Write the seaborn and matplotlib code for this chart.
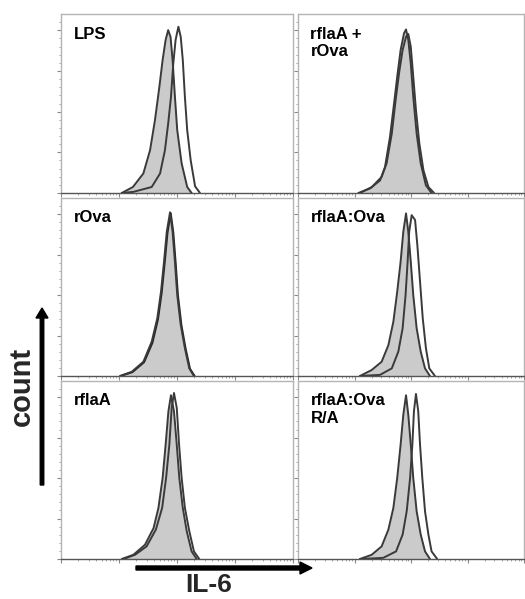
import numpy as np
import pandas as pd
import matplotlib
matplotlib.use("Agg")
import matplotlib.pyplot as plt
import seaborn as sns

# ---------------- data (x: fluorescence channel 0-1000, y: % of max count) ----------------
panel_labels = ["LPS", "rflaA +\nrOva", "rOva", "rflaA:Ova", "rflaA", "rflaA:Ova\nR/A"]

lps_ctrl_x = [262, 310, 355, 384, 405, 424, 438, 451, 462, 472, 481, 491, 501, 520, 544, 563]
lps_ctrl_y = [0, 3.7, 12.0, 26.4, 44.8, 65.2, 81.7, 94.1, 100.1, 96.0, 81.7, 59.3, 38.6, 18.2, 3.7, 0]
lps_stim_x = [262, 312, 391, 427, 448, 462, 474, 484, 494, 506, 516, 525, 534, 544, 559, 578, 599]
lps_stim_y = [0, 0.7, 3.7, 12.0, 26.3, 42.7, 59.1, 79.6, 94.1, 102.2, 96.0, 81.7, 59.1, 38.6, 20.1, 4.1, 0]

mix_ctrl_x = [267, 319, 363, 385, 407, 425, 439, 454, 469, 478, 488, 499, 510, 525, 543, 566, 591]
mix_ctrl_y = [0, 2.8, 7.7, 16.0, 34.4, 55.0, 71.4, 87.8, 98.1, 100.5, 94.1, 79.6, 59.1, 36.5, 18.2, 4.7, 0]
mix_stim_x = [274, 327, 370, 392, 415, 432, 447, 463, 478, 488, 499, 510, 522, 537, 555, 577, 602]
mix_stim_y = [0, 3.7, 9.9, 18.2, 36.5, 57.1, 73.5, 87.9, 96.0, 97.7, 89.9, 71.4, 50.9, 30.4, 14.0, 3.7, 0]

rova_ctrl_x = [254, 305, 355, 391, 415, 431, 444, 456, 470, 481, 491, 501, 516, 534, 553, 573]
rova_ctrl_y = [0, 2.6, 8.8, 21.2, 35.6, 52.1, 70.6, 89.2, 101.2, 89.2, 70.6, 50.1, 31.6, 17.2, 4.7, 0]
rova_stim_x = [257, 308, 358, 394, 418, 434, 447, 459, 473, 484, 494, 504, 519, 537, 556, 576]
rova_stim_y = [0, 2.4, 8.5, 20.5, 35.0, 51.5, 70.0, 88.5, 100.6, 88.8, 70.4, 50.0, 31.5, 17.0, 4.5, 0]

fus_ctrl_x = [274, 326, 370, 400, 422, 439, 454, 466, 478, 488, 499, 510, 525, 543, 562, 584]
fus_ctrl_y = [0, 3.7, 8.8, 19.1, 33.6, 52.1, 70.6, 89.2, 100.5, 89.2, 70.6, 50.1, 29.5, 15.1, 4.7, 0]
fus_stim_x = [274, 363, 415, 444, 463, 476, 485, 492, 503, 518, 528, 540, 552, 566, 581, 606]
fus_stim_y = [0, 0.7, 4.7, 15.1, 29.5, 50.1, 70.6, 89.2, 99.4, 96.4, 81.0, 58.3, 35.6, 17.2, 4.7, 0]

fla_ctrl_x = [262, 312, 362, 399, 420, 438, 451, 463, 474, 487, 499, 510, 525, 542, 563, 585]
fla_ctrl_y = [0, 2.6, 8.8, 19.1, 31.6, 50.1, 70.6, 91.3, 101.2, 91.3, 70.6, 50.1, 31.6, 17.2, 4.7, 0]
fla_stim_x = [269, 319, 369, 409, 436, 453, 467, 477, 487, 499, 509, 520, 534, 553, 573, 596]
fla_stim_y = [0, 2.6, 7.8, 18.2, 31.6, 50.1, 70.6, 93.3, 102.6, 93.3, 70.6, 50.1, 31.6, 17.2, 4.7, 0]

ra_ctrl_x = [274, 326, 370, 400, 422, 439, 454, 466, 478, 488, 499, 510, 525, 543, 562, 584]
ra_ctrl_y = [0, 2.6, 7.8, 18.2, 31.6, 50.1, 70.6, 89.2, 101.2, 89.2, 70.6, 50.1, 29.5, 15.1, 4.7, 0]
ra_stim_x = [274, 377, 434, 463, 481, 496, 506, 513, 522, 532, 540, 550, 562, 577, 591, 616]
ra_stim_y = [0, 0.7, 4.7, 15.1, 29.5, 50.1, 70.6, 91.3, 102.0, 91.3, 70.6, 50.1, 29.5, 15.1, 4.7, 0]

x_label = "IL-6"
y_label = "count"

# ------------------------------------------------------------------------------------------
sns.set_theme(style="white")
plt.rcParams["font.family"] = ["Liberation Sans", "DejaVu Sans"]

W, H = 525, 599
fig = plt.figure(figsize=(W / 100, H / 100), dpi=100)

cols = [(61, 293), (298, 524)]
rows = [(14, 193), (198, 376), (381, 559)]

panels = [
    (lps_ctrl_x, lps_ctrl_y, lps_stim_x, lps_stim_y),
    (mix_ctrl_x, mix_ctrl_y, mix_stim_x, mix_stim_y),
    (rova_ctrl_x, rova_ctrl_y, rova_stim_x, rova_stim_y),
    (fus_ctrl_x, fus_ctrl_y, fus_stim_x, fus_stim_y),
    (fla_ctrl_x, fla_ctrl_y, fla_stim_x, fla_stim_y),
    (ra_ctrl_x, ra_ctrl_y, ra_stim_x, ra_stim_y),
]

frame_col = "#b4b4b4"
line_col = "#3a3a3a"
fill_col = "#cbcbcb"

# log-like decade minor ticks for the fluorescence axis
dec = 250
xmajor = [i * dec for i in range(5)]
xminor = [d * dec + dec * np.log10(k) for d in range(4) for k in range(2, 10)]

for i, (label, (cx, cy, sx, sy)) in enumerate(zip(panel_labels, panels)):
    r, c = divmod(i, 2)
    x0, x1 = cols[c]
    y0, y1 = rows[r]
    ax = fig.add_axes([x0 / W, 1 - y1 / H, (x1 - x0) / W, (y1 - y0) / H])
    ax.set_facecolor("white")
    ctrl = pd.DataFrame({"x": cx, "y": cy})
    stim = pd.DataFrame({"x": sx, "y": sy})
    ax.fill_between(ctrl["x"], ctrl["y"], 0, color=fill_col, linewidth=0, zorder=1)
    sns.lineplot(data=ctrl, x="x", y="y", ax=ax, color=line_col, lw=1.4,
                 estimator=None, sort=False, zorder=3)
    sns.lineplot(data=stim, x="x", y="y", ax=ax, color="#222222" if i == 2 else line_col,
                 lw=1.4, estimator=None, sort=False, zorder=2)
    ax.set_xlim(0, 1000)
    ax.set_ylim(0, 110)
    ax.set_xlabel("")
    ax.set_ylabel("")
    ax.set_xticks(xmajor)
    ax.set_xticks(xminor, minor=True)
    ax.set_yticks([0, 25, 50, 75, 100])
    ax.set_yticks(np.arange(5, 110, 5), minor=True)
    ax.set_xticklabels([])
    ax.set_yticklabels([])
    ax.tick_params(axis="both", which="major", direction="out", length=3, width=0.8,
                   color="#888888", bottom=True, left=True)
    ax.tick_params(axis="both", which="minor", direction="out", length=1.6, width=0.6,
                   color="#999999", bottom=True, left=True)
    for side, sp in ax.spines.items():
        sp.set_visible(True)
        sp.set_color(frame_col)
        sp.set_linewidth(1.0)
    ax.spines["bottom"].set_color("#555555")
    ax.text(0.055, 0.93, label, transform=ax.transAxes, ha="left", va="top",
            fontsize=12, fontweight="bold", color="black", linespacing=1.2)

# axis arrows and labels
fig.add_artist(matplotlib.patches.FancyArrow(
    42 / W, 1 - 485 / H, 0, (485 - 308) / H, width=4 / H, head_width=12 / W,
    head_length=10 / H, length_includes_head=True, color="black",
    transform=fig.transFigure))
fig.add_artist(matplotlib.patches.FancyArrow(
    136 / W, 1 - 568 / H, (312 - 136) / W, 0, width=4 / H, head_width=12 / H,
    head_length=12 / W, length_includes_head=True, color="black",
    transform=fig.transFigure))
fig.text(22 / W, 1 - 386 / H, y_label, rotation=90, ha="center", va="center",
         fontsize=21, fontweight="bold")
fig.text(209 / W, 1 - 585 / H, x_label, ha="center", va="center",
         fontsize=19, fontweight="bold")

fig.savefig("out.png", dpi=100, facecolor="white")
